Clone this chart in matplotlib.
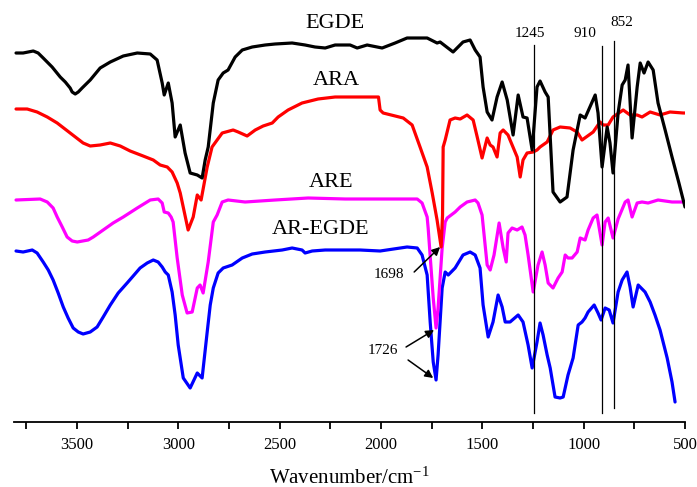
import matplotlib
matplotlib.use("Agg")
import matplotlib.pyplot as plt
from matplotlib.ticker import MultipleLocator

plt.rcParams['font.family'] = ['Liberation Serif', 'DejaVu Serif']
plt.rcParams['mathtext.fontset'] = 'custom'
plt.rcParams['mathtext.rm'] = 'Liberation Serif'
plt.rcParams['mathtext.it'] = 'Liberation Serif:italic'

# ---------------- data (wavenumber cm^-1, transmittance a.u. with vertical offsets) ----------------
egde_wn = [3800, 3765, 3715, 3691, 3666, 3622, 3582, 3557, 3533, 3523, 3508, 3493, 3474, 3434, 3385,
           3335, 3271, 3202, 3138, 3104, 3079, 3069, 3049, 3030, 3015, 2990, 2966, 2941, 2906, 2882,
           2867, 2852, 2827, 2803, 2778, 2754, 2719, 2684, 2635, 2571, 2522, 2438, 2374, 2325, 2275,
           2226, 2152, 2117, 2068, 1994, 1930, 1871, 1772, 1723, 1708, 1644, 1595, 1560, 1535, 1511,
           1496, 1476, 1452, 1427, 1402, 1377, 1348, 1323, 1299, 1279, 1254, 1230, 1215, 1190, 1175,
           1151, 1116, 1082, 1052, 1017, 993, 943, 929, 909, 884, 870, 855, 830, 810, 795, 781,
           761, 736, 721, 702, 682, 657, 633, 598, 564, 530, 500]
egde_t = [397, 397, 399, 397, 392, 383, 373, 368, 362, 358, 356, 358, 362, 370, 382,
          388, 394, 397, 396, 390, 367, 355, 367, 347, 313, 325, 297, 277, 275, 272,
          290, 303, 347, 370, 377, 380, 393, 400, 403, 405, 406, 407, 405, 403, 402,
          405, 405, 402, 405, 402, 407, 412, 412, 407, 408, 398, 408, 410, 400, 393,
          363, 338, 330, 353, 368, 350, 315, 355, 333, 332, 300, 363, 369, 358, 353,
          258, 248, 253, 300, 335, 332, 355, 337, 283, 323, 307, 277, 337, 365, 370, 385,
          312, 363, 387, 377, 388, 380, 347, 320, 293, 267, 243]

ara_wn = [3800, 3745, 3696, 3646, 3597, 3533, 3469, 3434, 3385, 3335, 3286, 3237, 3173, 3123, 3089,
          3054, 3030, 3005, 2990, 2951, 2926, 2906, 2887, 2857, 2833, 2783, 2729, 2704, 2660, 2620,
          2581, 2536, 2507, 2458, 2389, 2310, 2226, 2103, 2012, 2004, 1989, 1890, 1846, 1807, 1772,
          1747, 1723, 1703, 1696, 1693, 1683, 1659, 1634, 1609, 1575, 1545, 1525, 1501, 1476, 1461,
          1447, 1427, 1412, 1397, 1373, 1363, 1328, 1313, 1299, 1279, 1249, 1230, 1215, 1180, 1151,
          1116, 1067, 1032, 1008, 953, 919, 904, 879, 855, 805, 771, 736, 712, 672, 623, 574, 509, 500]
ara_t = [341, 341, 338, 333, 327, 317, 307, 304, 305, 307, 304, 299, 294, 290, 285,
         283, 278, 267, 257, 220, 233, 255, 250, 283, 303, 317, 320, 318, 314, 320,
         324, 327, 333, 340, 347, 351, 353, 353, 353, 340, 337, 332, 325, 303, 283,
         257, 230, 203, 235, 303, 310, 330, 332, 331, 335, 330, 313, 292, 312, 305,
         303, 293, 317, 320, 315, 310, 293, 273, 290, 297, 298, 300, 303, 308, 320,
         323, 322, 318, 310, 318, 328, 325, 325, 333, 340, 335, 335, 333, 338, 335, 338, 337, 337]

are_wn = [3800, 3681, 3646, 3617, 3597, 3572, 3548, 3523, 3498, 3444, 3419, 3370, 3321, 3271, 3202,
          3138, 3099, 3079, 3069, 3049, 3035, 3025, 3005, 2980, 2956, 2931, 2906, 2892, 2877, 2852,
          2827, 2808, 2783, 2754, 2670, 2522, 2359, 2176, 1821, 1797, 1772, 1767, 1742, 1728, 1718,
          1698, 1683, 1673, 1634, 1609, 1575, 1535, 1521, 1501, 1476, 1461, 1442, 1417, 1397, 1382,
          1373, 1353, 1328, 1304, 1289, 1274, 1249, 1225, 1205, 1190, 1175, 1151, 1126, 1106, 1091,
          1077, 1057, 1032, 1017, 993, 978, 953, 934, 909, 894, 879, 855, 830, 795, 781, 761, 736,
          712, 682, 633, 564, 514, 500]
are_t = [250, 251, 248, 242, 233, 223, 213, 209, 208, 210, 213, 220, 227, 233, 242,
         250, 251, 247, 238, 237, 233, 228, 192, 155, 137, 138, 162, 165, 157, 188,
         228, 235, 248, 250, 248, 250, 252, 251, 251, 247, 233, 222, 152, 122, 142,
         202, 228, 232, 238, 243, 248, 250, 247, 235, 185, 180, 195, 227, 202, 188,
         217, 222, 220, 223, 215, 195, 158, 185, 198, 185, 167, 162, 172, 178, 195,
         192, 192, 198, 212, 210, 220, 232, 235, 205, 228, 232, 212, 231, 248, 250, 233, 247,
         248, 247, 250, 248, 248, 248]

aregde_wn = [3800, 3765, 3720, 3696, 3666, 3641, 3617, 3592, 3567, 3543, 3518, 3493, 3469, 3434, 3400,
             3370, 3335, 3296, 3252, 3222, 3188, 3153, 3123, 3099, 3079, 3064, 3049, 3030, 3015, 3000,
             2975, 2941, 2906, 2882, 2857, 2842, 2827, 2803, 2778, 2734, 2684, 2635, 2571, 2487, 2438,
             2389, 2374, 2339, 2275, 2103, 2004, 1871, 1821, 1797, 1772, 1757, 1742, 1728, 1718, 1698,
             1683, 1668, 1634, 1595, 1560, 1535, 1511, 1496, 1471, 1447, 1422, 1402, 1387, 1363, 1323,
             1299, 1274, 1254, 1230, 1215, 1200, 1180, 1165, 1141, 1116, 1101, 1077, 1052, 1027, 1008,
             993, 978, 948, 929, 914, 894, 874, 855, 830, 810, 786, 771, 756, 731, 697, 672, 648,
             623, 608, 588, 564, 549]
aregde_t = [199, 198, 200, 197, 188, 180, 170, 157, 143, 132, 122, 118, 116, 118, 123,
            133, 145, 157, 167, 174, 182, 187, 190, 188, 183, 178, 175, 158, 135, 105,
            72, 62, 77, 72, 118, 145, 162, 177, 182, 185, 192, 196, 198, 200, 202,
            200, 197, 199, 200, 200, 199, 203, 202, 195, 175, 128, 88, 70, 95, 162,
            178, 175, 182, 195, 198, 195, 182, 145, 113, 128, 155, 143, 128, 128, 135,
            128, 105, 82, 108, 127, 115, 95, 82, 53, 52, 53, 75, 92, 125, 128,
            132, 138, 145, 137, 130, 142, 140, 127, 158, 170, 178, 163, 143, 165, 158, 148, 135,
            120, 108, 92, 68, 48]

series = [
    ("AR-EGDE", aregde_wn, aregde_t, "#0000FF"),
    ("ARE", are_wn, are_t, "#FF00FF"),
    ("ARA", ara_wn, ara_t, "#FF0000"),
    ("EGDE", egde_wn, egde_t, "#000000"),
]
marker_lines = [1245, 910, 852]
marker_labels = ["1245", "910", "852"]

# ---------------- figure ----------------
fig = plt.figure(figsize=(6.97, 4.87), dpi=100)
ax = fig.add_axes([14 / 697, 65 / 487, (685 - 14) / 697, (422 - 5) / 487])

for i, (name, wn, t, col) in enumerate(series):
    ax.plot(wn, t, color=col, lw=2.3, solid_joinstyle='round', solid_capstyle='round', zorder=2 + i)

ax.set_xlim(3810, 500)
ax.set_ylim(28, 445)

# curve labels
ax.text(2226, 427, "EGDE", fontsize=16, ha='center', va='center')
ax.text(2221, 370, "ARA", fontsize=16, ha='center', va='center')
ax.text(2246, 268, "ARE", fontsize=16, ha='center', va='center')
ax.text(2300, 220, "AR-EGDE", fontsize=16, ha='center', va='center')

# vertical marker lines
ax.plot([marker_lines[0]] * 2, [37, 405], color='black', lw=0.9, zorder=10)
ax.plot([marker_lines[1]] * 2, [37, 404], color='black', lw=0.9, zorder=10)
ax.plot([marker_lines[2]] * 2, [42, 409], color='black', lw=0.9, zorder=10)
ax.text(1266, 417, marker_labels[0], fontsize=11, ha='center', va='center')
ax.text(993, 417, marker_labels[1], fontsize=11, ha='center', va='center')
ax.text(810, 428, marker_labels[2], fontsize=11, ha='center', va='center')

# annotations
arrow = dict(arrowstyle='-|>', color='black', lw=1.1, mutation_scale=12, shrinkA=0, shrinkB=0)
ax.text(1959, 175, "1698", fontsize=11, ha='center', va='center')
ax.annotate("", xy=(1708, 203), xytext=(1836, 178), arrowprops=arrow, zorder=12)
ax.text(1989, 100, "1726", fontsize=11, ha='center', va='center')
ax.annotate("", xy=(1738, 120), xytext=(1876, 103), arrowprops=arrow, zorder=12)
ax.annotate("", xy=(1742, 72), xytext=(1866, 90), arrowprops=arrow, zorder=12)

# axes styling
for s in ['left', 'right', 'top']:
    ax.spines[s].set_visible(False)
ax.spines['bottom'].set_linewidth(1.3)
ax.set_yticks([])
ax.xaxis.set_major_locator(MultipleLocator(500))
ax.xaxis.set_minor_locator(MultipleLocator(250))
ax.tick_params(axis='x', which='both', direction='out', length=5, width=1.3, labelsize=12, pad=6)
ax.set_xlabel("Wavenumber/cm$^{-1}$", fontsize=15, labelpad=10)

fig.savefig("out.png", dpi=100)
